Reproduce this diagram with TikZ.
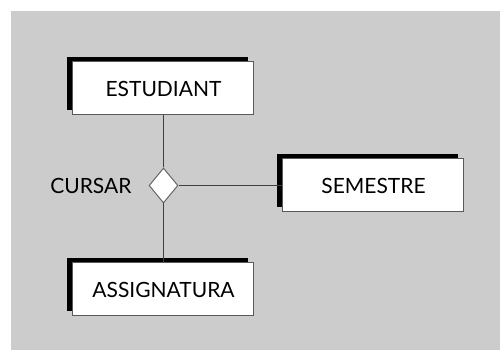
\documentclass[tikz,border=0pt]{standalone}
\usepackage{fontspec}
\setmainfont{Lato}
\usetikzlibrary{positioning, shapes.geometric, shadows}

\begin{document}
\begin{tikzpicture}[
    entity/.style={rectangle, draw=black!65, fill=white, line width=0.5pt,
                   minimum height=26.5pt, minimum width=90.5pt, text centered,
                   general shadow={fill=black, shadow xshift=-3pt, shadow yshift=2.5pt}},
    relation/.style={diamond, draw=black!60, fill=white, line width=0.5pt, inner sep=0pt,
                     minimum width=14.5pt, minimum height=17.5pt},
    link/.style={-, draw=black!75, line width=0.5pt},
    font=\fontsize{10.5pt}{12pt}\selectfont
]

% Background and bounds
\useasboundingbox (0,0) rectangle (250pt,-175.5pt);
\fill[black!20] (5.5pt,-5.5pt) rectangle (250pt,-175pt);

% Entities and relationship
\node[entity] (estudiant) at (81.75pt,-44.25pt) {ESTUDIANT};
\node[relation, below=26pt of estudiant] (cursar) {};
\node[left=5pt of cursar] (cursarlbl) {CURSAR};
\node[entity, below=29.5pt of cursar] (assignatura) {ASSIGNATURA};
\node[entity, right=52pt of cursar] (semestre) {SEMESTRE};

% Links
\draw[link] (estudiant) -- (cursar);
\draw[link] (cursar) -- (assignatura);
\draw[link] (cursar) -- (semestre);

\end{tikzpicture}
\end{document}
